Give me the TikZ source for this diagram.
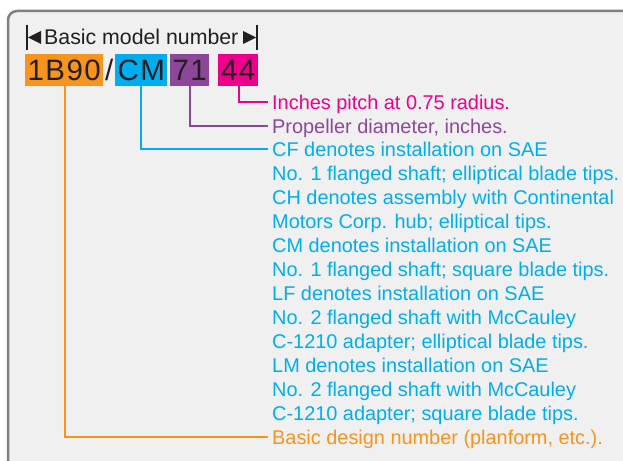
\documentclass[tikz,border=0pt]{standalone}
\usepackage{fontspec}
\setmainfont{Liberation Sans}
\newfontfamily\codefont[LetterSpace=5]{Liberation Sans}
\definecolor{cOr}{HTML}{F7941D}
\definecolor{cBl}{HTML}{00AEEF}
\definecolor{cPu}{HTML}{8C4799}
\definecolor{cMa}{HTML}{EC008C}
\definecolor{cDk}{HTML}{231F20}
\definecolor{cBg}{HTML}{F0F0F0}
\definecolor{cBd}{HTML}{808080}
\begin{document}
\begin{tikzpicture}[x=1pt,y=-1pt,
  codebox/.style={inner sep=0pt,minimum height=32pt,anchor=north west,text=cDk,font=\codefont\fontsize{29.5}{30}\selectfont},
  desc/.style={anchor=base west,inner sep=0pt,font=\fontsize{19.9}{24}\selectfont},
  conn/.style={line width=2pt}]
\useasboundingbox (0,0) rectangle (623,460);
\draw[cBd,fill=cBg,line width=2.5pt,rounded corners=9pt] (8,11) rectangle (660,500);
% header
\draw[cDk,line width=2pt] (27,25) -- (27,50);
\fill[cDk] (28,37.5) -- (41,31) -- (41,44) -- cycle;
\node[anchor=base west,inner sep=0pt,text=cDk,font=\fontsize{21.3}{24}\selectfont] (hdr) at (44,45) {Basic model number};
\fill[cDk] (256,37.5) -- (243,31) -- (243,44) -- cycle;
\draw[cDk,line width=2pt] (257,25) -- (257,50);
% code boxes
\node[codebox,fill=cOr,minimum width=78pt] (bn) at (25,54) {1B90};
\node[codebox,minimum width=12pt] (sl) at (103,54) {/};
\node[codebox,fill=cBl,minimum width=52pt] (cm) at (115,54) {CM};
\node[codebox,fill=cPu,minimum width=39pt] (dia) at (170,54) {71};
\node[codebox,fill=cMa,minimum width=40pt] (pit) at (218,54) {44};
% descriptions
\node[desc,text=cMa] (t1) at (272,109) {Inches pitch at 0.75 radius.};
\node[desc,text=cPu] (t2) at (272,133) {Propeller diameter, inches.};
\node[desc,text=cBl] (t3) at (272,156) {CF denotes installation on SAE};
\node[desc,text=cBl] (t4) at (272,180) {No. 1 flanged shaft; elliptical blade tips.};
\node[desc,text=cBl] (t5) at (272,204) {CH denotes assembly with Continental};
\node[desc,text=cBl] (t6) at (272,228) {Motors Corp. hub; elliptical tips.};
\node[desc,text=cBl] (t7) at (272,252) {CM denotes installation on SAE};
\node[desc,text=cBl] (t8) at (272,276) {No. 1 flanged shaft; square blade tips.};
\node[desc,text=cBl] (t9) at (272,300) {LF denotes installation on SAE};
\node[desc,text=cBl] (t10) at (272,324) {No. 2 flanged shaft with McCauley};
\node[desc,text=cBl] (t11) at (272,348) {C-1210 adapter; elliptical blade tips.};
\node[desc,text=cBl] (t12) at (272,372) {LM denotes installation on SAE};
\node[desc,text=cBl] (t13) at (272,396) {No. 2 flanged shaft with McCauley};
\node[desc,text=cBl] (t14) at (272,420) {C-1210 adapter; square blade tips.};
\node[desc,text=cOr] (t15) at (272,444) {Basic design number (planform, etc.).};
% connectors
\coordinate (e1) at (268,102);
\coordinate (e2) at (268,126);
\coordinate (e3) at (268,149);
\coordinate (e15) at (268,437);
\draw[conn,cMa] (pit.south -| 239,0) |- (e1);
\draw[conn,cPu] (dia.south -| 190,0) |- (e2);
\draw[conn,cBl] (cm.south -| 141,0) |- (e3);
\draw[conn,cOr] (bn.south -| 65,0) |- (e15);
\end{tikzpicture}
\end{document}
